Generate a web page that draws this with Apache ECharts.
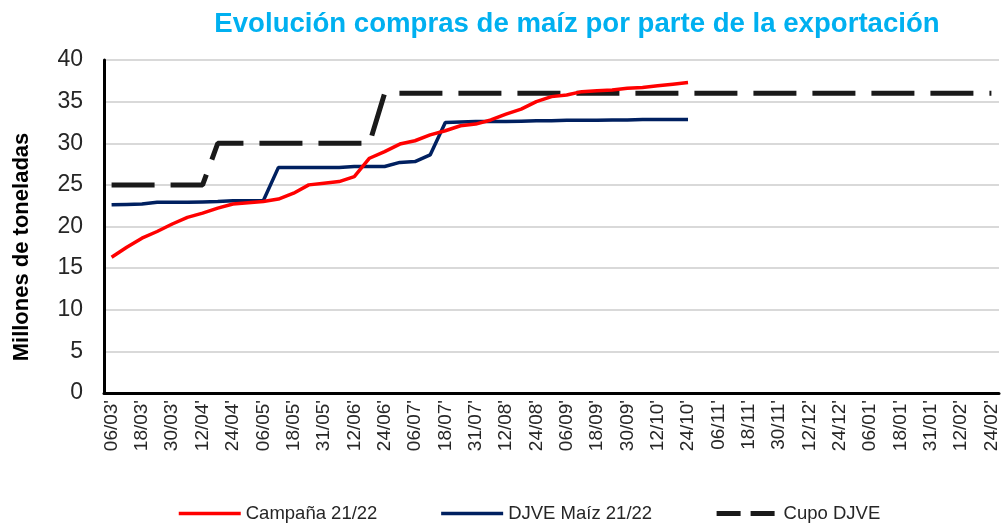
<!DOCTYPE html>
<html>
<head>
<meta charset="utf-8">
<title>Evolución compras de maíz</title>
<script src="https://cdn.jsdelivr.net/npm/echarts@6/dist/echarts.min.js"></script>
<style>
  html, body { margin: 0; padding: 0; background: #fff; }
  #chart { width: 1002px; height: 523px; }
</style>
</head>
<body>
<div id="chart"></div>
<script>
// fechas (cada media etiqueta), solo se muestran las pares
var categories = ["06/03'", "12/03'", "18/03'", "24/03'", "30/03'", "06/04'", "12/04'", "18/04'", "24/04'", "30/04'",
                  "06/05'", "12/05'", "18/05'", "24/05'", "31/05'", "06/06'", "12/06'", "18/06'", "24/06'", "30/06'",
                  "06/07'", "12/07'", "18/07'", "24/07'", "31/07'", "06/08'", "12/08'", "18/08'", "24/08'", "30/08'",
                  "06/09'", "12/09'", "18/09'", "24/09'", "30/09'", "06/10'", "12/10'", "18/10'", "24/10'", "30/10'",
                  "06/11'", "12/11'", "18/11'", "24/11'", "30/11'", "06/12'", "12/12'", "18/12'", "24/12'", "30/12'",
                  "06/01'", "12/01'", "18/01'", "24/01'", "31/01'", "06/02'", "12/02'", "18/02'", "24/02'"];

// millones de toneladas
var campana = [16.3, 17.5, 18.6, 19.4, 20.3, 21.1, 21.6, 22.2, 22.7, 22.85,
               23.0, 23.3, 24.0, 25.0, 25.2, 25.4, 26.0, 28.2, 29.0, 29.9,
               30.3, 31.0, 31.5, 32.1, 32.3, 32.8, 33.5, 34.1, 35.0, 35.6,
               35.8, 36.2, 36.3, 36.4, 36.6, 36.7, 36.9, 37.1, 37.3];

var djve = [22.6, 22.65, 22.7, 22.9, 22.9, 22.9, 22.95, 23.0, 23.1, 23.1,
            23.1, 27.1, 27.1, 27.1, 27.1, 27.1, 27.2, 27.2, 27.2, 27.7,
            27.8, 28.6, 32.5, 32.55, 32.6, 32.6, 32.6, 32.65, 32.7, 32.7,
            32.75, 32.75, 32.75, 32.8, 32.8, 32.85, 32.85, 32.85, 32.85];

var cupo = [25, 25, 25, 25, 25, 25, 25, 30, 30, 30,
            30, 30, 30, 30, 30, 30, 30, 30, 36, 36,
            36, 36, 36, 36, 36, 36, 36, 36, 36, 36,
            36, 36, 36, 36, 36, 36, 36, 36, 36, 36,
            36, 36, 36, 36, 36, 36, 36, 36, 36, 36,
            36, 36, 36, 36, 36, 36, 36, 36, 36];

var yTicks = [0, 5, 10, 15, 20, 25, 30, 35, 40];

var FONT = "'Liberation Sans', Arial, sans-serif";

var myChart = echarts.init(document.getElementById('chart'), null, { renderer: 'canvas' });

var option = {
    animation: false,
    backgroundColor: '#ffffff',
    title: {
        text: 'Evolución compras de maíz por parte de la exportación',
        left: 572,
        top: 5,
        textAlign: 'center',
        textStyle: {
            color: '#00b0f0',
            fontWeight: 'bold',
            fontFamily: FONT,
            fontSize: 27.6
        }
    },
    grid: {
        left: 104,
        right: 3,
        top: 60,
        bottom: 130
    },
    legend: {
        left: 172,
        top: 499,
        itemWidth: 62,
        itemHeight: 14,
        itemGap: 62,
        itemStyle: { opacity: 0 },
        textStyle: { fontFamily: FONT, fontSize: 18.5, color: '#262626' },
        data: [
            { name: 'Campaña 21/22', lineStyle: { width: 3.5 } },
            { name: 'DJVE Maíz 21/22', lineStyle: { width: 3.5 } },
            { name: 'Cupo DJVE', lineStyle: { width: 5, type: [24, 10] } }
        ]
    },
    xAxis: {
        type: 'category',
        data: categories,
        boundaryGap: true,
        axisLine: { show: true, lineStyle: { color: '#000', width: 3 } },
        axisTick: { show: false },
        splitLine: { show: false },
        axisLabel: {
            interval: 1,
            rotate: 90,
            margin: 7,
            fontFamily: FONT,
            fontSize: 19,
            color: '#262626'
        }
    },
    yAxis: {
        type: 'value',
        min: yTicks[0],
        max: yTicks[yTicks.length - 1],
        interval: 5,
        axisLine: { show: true, lineStyle: { color: '#000', width: 3 } },
        axisTick: { show: false },
        splitLine: { show: true, lineStyle: { color: '#d9d9d9', width: 2 } },
        axisLabel: {
            margin: 21,
            fontFamily: FONT,
            fontSize: 23,
            color: '#262626'
        }
    },
    graphic: [{
        type: 'text',
        x: 22,
        y: 247,
        rotation: Math.PI / 2,
        style: {
            text: 'Millones de toneladas',
            fill: '#000',
            font: "bold 22px 'Liberation Sans', Arial, sans-serif",
            textAlign: 'center',
            textVerticalAlign: 'middle'
        }
    }],
    series: [
        {
            name: 'Cupo DJVE',
            type: 'line',
            data: cupo,
            symbol: 'none',
            lineStyle: { color: '#1a1a1a', width: 5, type: [43, 16], cap: 'butt' },
            itemStyle: { color: '#1a1a1a' }
        },
        {
            name: 'DJVE Maíz 21/22',
            type: 'line',
            data: djve,
            symbol: 'none',
            lineStyle: { color: '#002060', width: 3.5 },
            itemStyle: { color: '#002060' }
        },
        {
            name: 'Campaña 21/22',
            type: 'line',
            data: campana,
            symbol: 'none',
            lineStyle: { color: '#ff0000', width: 3.5 },
            itemStyle: { color: '#ff0000' }
        }
    ]
};

myChart.setOption(option);
</script>
</body>
</html>
